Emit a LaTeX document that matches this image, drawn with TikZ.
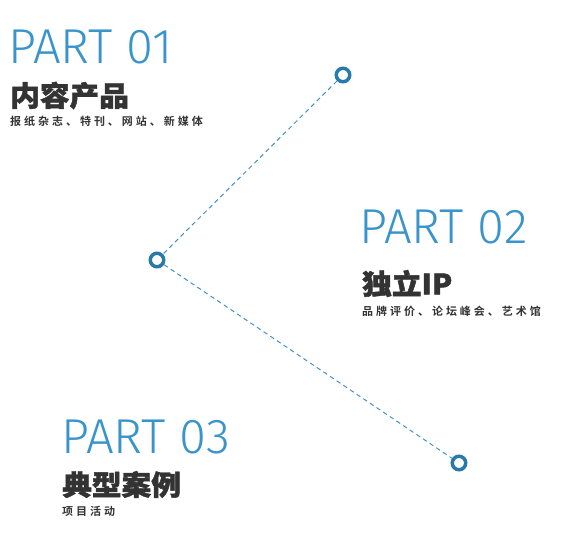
\documentclass[tikz,border=0pt]{standalone}
\usepackage{fontspec}
\usetikzlibrary{shapes.geometric, arrows}
\newfontfamily\partfont{Fira Sans}[UprightFont=* Light]
\newfontfamily\cjkhead{Noto Sans CJK SC}[UprightFont=* Black, FakeStretch=1.06, FakeBold=1.6]
\newfontfamily\cjksub{Noto Sans CJK SC}[UprightFont=* Bold, LetterSpace=27]
\definecolor{partblue}{RGB}{58,148,204}
\definecolor{ringblue}{RGB}{40,122,172}
\definecolor{dashblue}{RGB}{70,145,196}
\definecolor{darktext}{RGB}{51,51,51}
\tikzstyle{part}=[anchor=base west, inner sep=0, text=partblue, font=\partfont\fontsize{49}{49}\selectfont]
\tikzstyle{title}=[anchor=west, inner sep=0, text=darktext, font=\cjkhead\fontsize{28}{28}\selectfont]
\tikzstyle{subtitle}=[anchor=west, inner sep=0, text=darktext, font=\cjksub\fontsize{11}{11}\selectfont]
\tikzstyle{ring}=[circle, draw=ringblue, line width=3.5pt, fill=white, minimum size=13.5pt, inner sep=0]
\tikzstyle{link}=[draw=dashblue, line width=1pt, dash pattern=on 4.5pt off 3.5pt]

\begin{document}
\begin{tikzpicture}[x=1pt, y=-1pt]
		
		\useasboundingbox (0,0) rectangle (573,550);
		
		\node (part1) [part] at (8,63) {PART 01};
		\node (title1) [title] at (10,95.5) {内容产品};
		\node (sub1) [subtitle] at (10,121) {报纸杂志、特刊、网站、新媒体};
		
		\node (part2) [part] at (359,243) {PART 02};
		\node (title2) [title] at (362,283.5) {独立IP};
		\node (sub2) [subtitle] at (362,311.5) {品牌评价、论坛峰会、艺术馆};
		
		\node (part3) [part] at (61,453) {PART 03};
		\node (title3) [title] at (62,484.5) {典型案例};
		\node (sub3) [subtitle] at (62,511.5) {项目活动};
		
		\node (c1) [ring] at (343,75) {};
		\node (c2) [ring] at (157,260) {};
		\node (c3) [ring] at (459,463) {};
		
		\draw[link] (c1) -- (c2);
		\draw[link] (c2) -- (c3);
		
\end{tikzpicture}
\end{document}
